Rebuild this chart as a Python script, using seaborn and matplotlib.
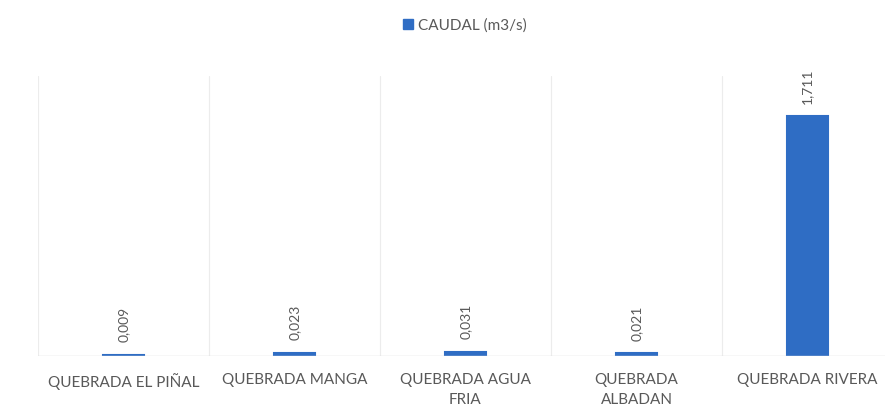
import matplotlib
matplotlib.use("Agg")
import matplotlib.pyplot as plt
import seaborn as sns
import pandas as pd

quebradas = ["QUEBRADA EL PIÑAL", "QUEBRADA MANGA", "QUEBRADA AGUA\nFRIA",
             "QUEBRADA\nALBADAN", "QUEBRADA RIVERA"]
caudal = [0.009, 0.023, 0.031, 0.021, 1.711]
etiquetas = ["0,009", "0,023", "0,031", "0,021", "1,711"]
serie = "CAUDAL (m3/s)"

df = pd.DataFrame({"quebrada": quebradas, "caudal": caudal, "serie": serie})

sns.set_style("white")
plt.rcParams["font.family"] = ["Lato", "DejaVu Sans"]

fig = plt.figure(figsize=(8.85, 4.18), dpi=100)
ax = fig.add_axes([38 / 885, 62 / 418, 855 / 885, 280 / 418])

azul = "#2F6DC4"
sns.barplot(data=df, x="quebrada", y="caudal", hue="serie", palette=[azul],
            saturation=1, width=0.245, ax=ax, legend=False,
            edgecolor=azul, linewidth=1.5)

ax.set_ylim(0, 2.0)
ax.set_xlim(-0.5, 4.5)
for s in ax.spines.values():
    s.set_visible(False)
ax.axhline(0, color="#d9d9d9", lw=1)
for b in [-0.5, 0.5, 1.5, 2.5, 3.5, 4.5]:
    ax.axvline(b, color="#ececec", lw=0.8, zorder=0)

ax.set_yticks([])
ax.set_xlabel("")
ax.set_ylabel("")
ax.tick_params(axis="x", length=0, pad=12, labelsize=11, labelcolor="#595959")
for lbl in ax.get_xticklabels():
    lbl.set_linespacing(1.6)

for i, (v, t) in enumerate(zip(caudal, etiquetas)):
    ax.annotate(t, (i, v), xytext=(0, 9), textcoords="offset points",
                rotation=90, ha="center", va="bottom", fontsize=10, color="#595959")

h = plt.Rectangle((0, 0), 1, 1, color=azul)
fig.legend([h], [serie], loc="upper center", bbox_to_anchor=(0.525, 0.99),
           frameon=False, fontsize=11, labelcolor="#595959",
           handlelength=0.7, handleheight=0.7, handletextpad=0.3)

fig.savefig("out.png", dpi=100)
